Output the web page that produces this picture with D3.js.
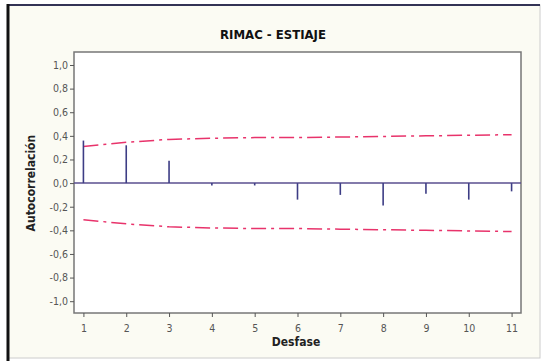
<!DOCTYPE html>
<html lang="es">
<head>
  <meta charset="utf-8">
  <title>RIMAC - ESTIAJE</title>
  <script src="https://d3js.org/d3.v7.min.js"></script>
  <style>
    body { margin: 0; background: #fff; }
    #chart text { font-family: "DejaVu Sans Condensed", "DejaVu Sans", sans-serif; }
    .tick text { fill: #555; font-size: 10.5px; }
    .tick line { stroke: #555; }
  </style>
</head>
<body>
  <div id="chart"></div>
  <script>
    "use strict"
    // desfases y autocorrelaciones
    var desfases = [1, 2, 3, 4, 5, 6, 7, 8, 9, 10, 11];
    var acf = [0.36, 0.32, 0.19, -0.02, -0.02, -0.14, -0.10, -0.19, -0.09, -0.14, -0.07];
    var limite = [0.31, 0.345, 0.37, 0.38, 0.385, 0.385, 0.39, 0.395, 0.40, 0.405, 0.41];
    var yTicks = [-1, -0.8, -0.6, -0.4, -0.2, 0, 0.2, 0.4, 0.6, 0.8, 1];

    var W = 545, H = 361;
    var margin = {top: 52, right: 24, bottom: 48, left: 74};
    var ancho = W - margin.left - margin.right,
        alto = H - margin.top - margin.bottom;

    var svg = d3.select('#chart').append('svg')
      .attr('width', W).attr('height', H);

    // marco
    svg.append('rect').attr('x', 0).attr('y', 0).attr('width', W).attr('height', H).attr('fill', '#fff');
    svg.append('rect').attr('x', 8).attr('y', 5).attr('width', 532).attr('height', 353)
      .attr('fill', '#fbfbf3').attr('stroke', '#ccc');
    svg.append('line').attr('x1', 8).attr('x2', 540).attr('y1', 5).attr('y2', 5)
      .attr('stroke', '#333355').attr('stroke-width', 2);
    svg.append('line').attr('x1', 8).attr('x2', 8).attr('y1', 4).attr('y2', 361)
      .attr('stroke', '#111').attr('stroke-width', 3);

    var g = svg.append('g').attr('transform', 'translate(' + margin.left + ',' + margin.top + ')');

    var x = d3.scaleLinear().domain([0.78, 11.22]).range([0, ancho]);
    var y = d3.scaleLinear().domain([-1.1, 1.11]).range([alto, 0]);

    g.append('rect').attr('width', ancho).attr('height', alto)
      .attr('fill', '#fff').attr('stroke', '#777').attr('stroke-width', 1.5);

    var fmt = d => d3.format('.1f')(d).replace('.', ',').replace('−', '-');

    g.append('g').attr('transform', 'translate(0,' + alto + ')')
      .call(d3.axisBottom(x).tickValues(desfases).tickSize(4).tickPadding(8).tickFormat(d3.format('d')))
      .call(a => a.select('.domain').remove());
    g.append('g')
      .call(d3.axisLeft(y).tickValues(yTicks).tickSize(4).tickPadding(2).tickFormat(fmt))
      .call(a => a.select('.domain').remove());

    // limites de confianza
    var linea = d3.line().x((d, i) => x(desfases[i]));
    g.append('path').datum(limite)
      .attr('d', linea.y(d => y(d)))
      .attr('fill', 'none').attr('stroke', '#e8336b').attr('stroke-width', 1.5)
      .attr('stroke-dasharray', '15,5,3,5');
    g.append('path').datum(limite)
      .attr('d', linea.y(d => y(-d)))
      .attr('fill', 'none').attr('stroke', '#e8336b').attr('stroke-width', 1.5)
      .attr('stroke-dasharray', '15,5,3,5');

    // linea cero
    g.append('line').attr('x1', 0).attr('x2', ancho).attr('y1', y(0)).attr('y2', y(0))
      .attr('stroke', '#5a4f8f').attr('stroke-width', 1.5);

    g.selectAll('.barra').data(acf).enter().append('line')
      .attr('class', 'barra')
      .attr('x1', (d, i) => x(desfases[i])).attr('x2', (d, i) => x(desfases[i]))
      .attr('y1', y(0)).attr('y2', d => y(d))
      .attr('stroke', '#3d3d85').attr('stroke-width', 1.6);

    svg.append('text').attr('x', 273).attr('y', 39).attr('text-anchor', 'middle')
      .attr('font-size', '13px').attr('font-weight', 'bold').attr('fill', '#111')
      .text('RIMAC - ESTIAJE');
    svg.append('text').attr('x', 296).attr('y', 346).attr('text-anchor', 'middle')
      .attr('font-size', '12px').attr('font-weight', 'bold').attr('fill', '#222')
      .text('Desfase');
    svg.append('text')
      .attr('transform', 'translate(35,' + (margin.top + y(0)) + ') rotate(-90)')
      .attr('text-anchor', 'middle')
      .attr('font-size', '12px').attr('font-weight', 'bold').attr('fill', '#222')
      .text('Autocorrelación');
  </script>
</body>
</html>
